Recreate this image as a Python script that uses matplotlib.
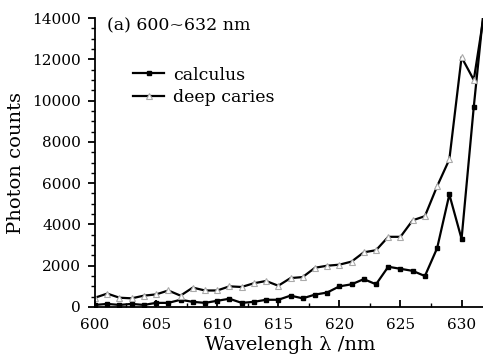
import matplotlib
matplotlib.use('Agg')
import matplotlib.pyplot as plt
import numpy as np
from matplotlib.ticker import MultipleLocator

plt.rcParams.update({
    'font.family': 'DejaVu Serif',
    'font.size': 11,
    'axes.linewidth': 1.3,
})

# wavelength (nm) and photon counts
wavelength = np.arange(600, 633)
calculus = [100, 150, 100, 150, 100, 200, 200, 350, 250, 200,
            300, 400, 200, 250, 350, 350, 550, 420, 600, 700,
            1000, 1100, 1350, 1100, 1950, 1850, 1750, 1500, 2850, 5450,
            3300, 9700, 15500]
deep_caries = [450, 650, 450, 420, 550, 610, 800, 550, 940, 800,
               800, 1000, 970, 1150, 1260, 1030, 1400, 1450, 1900, 2000,
               2050, 2200, 2650, 2750, 3400, 3400, 4200, 4400, 5850, 7150,
               12100, 11000, 14800]

fig = plt.figure(figsize=(4.83, 3.64), dpi=100)
ax = fig.add_axes([95 / 483, 57 / 364, 391 / 483, 289 / 364])

ax.plot(wavelength, calculus, color='black', linewidth=1.6,
        marker='s', markersize=3.2, markerfacecolor='black',
        markeredgecolor='black', label='calculus')
ax.plot(wavelength, deep_caries, color='black', linewidth=1.6,
        marker='^', markersize=3.8, markerfacecolor='white',
        markeredgecolor='#aaaaaa', markeredgewidth=0.8, label='deep caries')

ax.set_xlim(600, 632)
ax.set_ylim(0, 14000)
ax.xaxis.set_major_locator(MultipleLocator(5))
ax.xaxis.set_minor_locator(MultipleLocator(2.5))
ax.yaxis.set_major_locator(MultipleLocator(2000))
ax.yaxis.set_minor_locator(MultipleLocator(500))

ax.tick_params(axis='x', which='major', direction='in', length=5, width=1.3, pad=8)
ax.tick_params(axis='x', which='minor', direction='in', length=3, width=1.0)
ax.tick_params(axis='y', which='major', direction='out', length=5, width=1.3, pad=5)
ax.tick_params(axis='y', which='minor', direction='out', length=3, width=1.0)

ax.spines['top'].set_visible(False)
ax.spines['right'].set_visible(False)

ax.set_xlabel('Wavelengh λ /nm', fontsize=14, labelpad=3)
ax.set_ylabel('Photon counts', fontsize=14, labelpad=5)

ax.text(0.03, 0.972, '(a) 600~632 nm', transform=ax.transAxes, va='center', ha='left',
        fontsize=12.5)

ax.legend(loc='upper left', bbox_to_anchor=(0.097, 0.832), frameon=False,
          borderpad=0, borderaxespad=0, handlelength=1.8, handletextpad=0.5,
          labelspacing=0.3, fontsize=12.5)

plt.savefig('out.png', dpi=100)
plt.close()
